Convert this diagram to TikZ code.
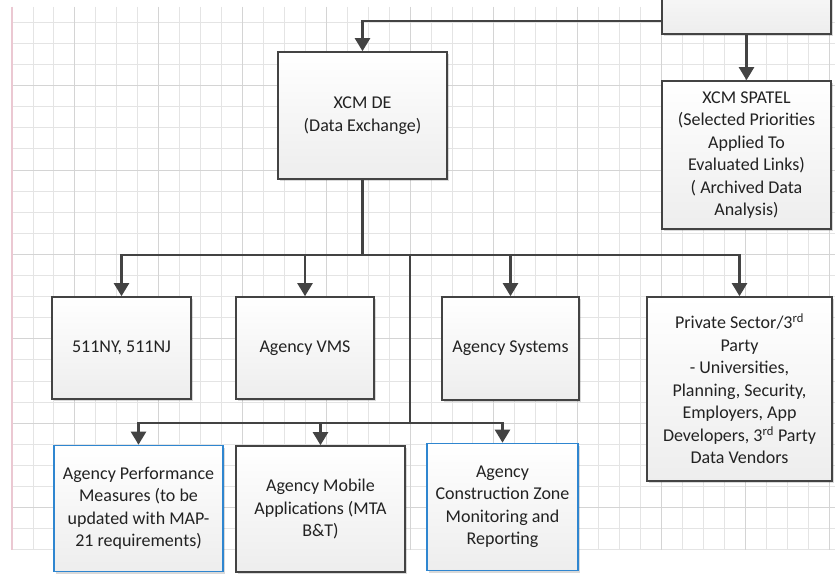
\documentclass[tikz,border=0pt]{standalone}
\usepackage{fontspec}
\setmainfont{Carlito}
\usetikzlibrary{arrows.meta,shadows}

\definecolor{edgec}{HTML}{434343}
\definecolor{bluec}{HTML}{2F86D0}
\definecolor{gridc}{HTML}{E4E4E4}
\definecolor{gridm}{HTML}{D4D4D4}
\definecolor{pinkc}{HTML}{EBC8D2}
\definecolor{txtc}{HTML}{222222}

\tikzset{
  blk/.style={draw=edgec, line width=1.6pt, top color=white, bottom color=black!7,
    inner sep=0pt, align=center, text=txtc,
    font=\fontsize{18}{22.5}\selectfont,
    drop shadow={shadow xshift=2pt, shadow yshift=-2pt, opacity=0.15, fill=black}},
  blublk/.style={blk, draw=bluec},
  flow/.style={draw=edgec, line width=2.2pt, -{Triangle[width=15pt,length=13pt]}},
  minorline/.style={draw=gridc, line width=0.9pt},
  majorline/.style={draw=gridm, line width=0.9pt},
}

\begin{document}
\begin{tikzpicture}[x=1pt, y=-1pt]
  \useasboundingbox (0,0) rectangle (835,588);
  \clip (0,0) rectangle (835,588);
  \fill[white] (0,0) rectangle (835,588);

  % drawing-sheet grid
  \foreach \i in {0,...,39}
    \draw[minorline] ({12+20.95*\i},7) -- ({12+20.95*\i},550);
  \foreach \j in {0,...,25}
    \draw[minorline] (12,{22.3+21.1*\j}) -- (835,{22.3+21.1*\j});
  \foreach \i in {3,7,...,39}
    \draw[majorline] ({12+20.95*\i},7) -- ({12+20.95*\i},550);
  \foreach \j in {3,7,...,23}
    \draw[majorline] (12,{22.3+21.1*\j}) -- (835,{22.3+21.1*\j});
  \draw[pinkc, line width=1.2pt] (12,7) -- (12,550);

  % blocks
  \node[blk, minimum width=169pt, minimum height=74pt] (src) at (746.5,-3) {};
  \node[blk, minimum width=169pt, minimum height=127pt] (xcm) at (362.5,115.5)
    {XCM DE\\(Data Exchange)};
  \node[blk, minimum width=169pt, minimum height=148pt] (spatel) at (746.5,155)
    {XCM SPATEL\\(Selected Priorities\\Applied To\\Evaluated Links)\\( Archived Data\\Analysis)};

  \node[blk, minimum width=139pt, minimum height=102pt] (ny) at (121.5,348)
    {511NY, 511NJ};
  \node[blk, minimum width=138pt, minimum height=102pt] (vms) at (305,348)
    {Agency VMS};
  \node[blk, minimum width=137pt, minimum height=103pt] (sys) at (510.5,348.5)
    {Agency Systems};
  \node[blk, minimum width=185pt, minimum height=184pt] (priv) at (739.5,389)
    {Private Sector/3\textsuperscript{rd}\\Party\\- Universities,\\Planning, Security,\\Employers, App\\Developers, 3\textsuperscript{rd} Party\\Data Vendors};

  \node[blublk, minimum width=169pt, minimum height=126pt] (perf) at (138.5,508.5)
    {Agency Performance\\Measures (to be\\updated with MAP-\\21 requirements)};
  \node[blk, minimum width=169pt, minimum height=126pt] (mob) at (320.5,509)
    {Agency Mobile\\Applications (MTA\\B\&T)};
  \node[blublk, minimum width=151pt, minimum height=127pt] (cons) at (502.5,507)
    {Agency\\Construction Zone\\Monitoring and\\Reporting};

  % bus junctions
  \coordinate (topbus) at (362.5,21);
  \coordinate (bus) at (410,255);
  \coordinate (lowbus) at (410,423);

  % connectors
  \draw[flow] (src.west |- topbus) -- (topbus) -- (xcm.north);
  \draw[flow] (src.south) -- (spatel.north);

  \draw[flow] (xcm.south) |- (bus) -| (priv.north);
  \draw[flow] (xcm.south) -- (xcm.south |- bus) -| (ny.north);
  \draw[flow] (xcm.south) -- (xcm.south |- bus) -| (vms.north);
  \draw[flow] (xcm.south) -- (xcm.south |- bus) -| (sys.north);

  \draw[flow] (bus) -- (lowbus) -| (perf.north);
  \draw[flow] (bus) -- (lowbus) -| (mob.north);
  \draw[flow] (bus) -- (lowbus) -| (cons.north);
\end{tikzpicture}
\end{document}
